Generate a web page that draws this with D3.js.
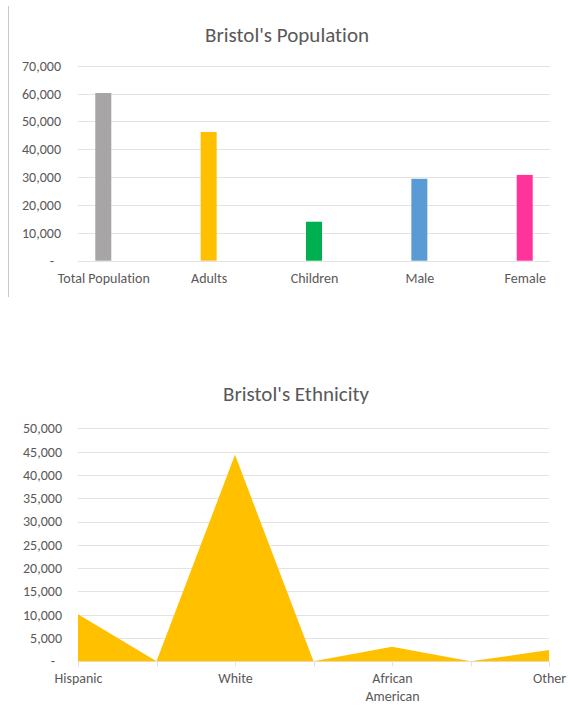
<!DOCTYPE html>
<html>
<head>
<meta charset="utf-8">
<script src="https://cdn.jsdelivr.net/npm/d3@7"></script>
<style>
  html, body { margin: 0; padding: 0; background: #fff; }
  svg { display: block; }
  text { font-family: Carlito, Calibri, Lato, "Open Sans", sans-serif; fill: #595959; font-variant-ligatures: none; }
</style>
</head>
<body>
<svg id="chart" width="579" height="708"></svg>
<script>
// ---- Data: Bristol's Population (bar chart) ----
const popCategories = ["Total Population", "Adults", "Children", "Male", "Female"];
const popValues = [60200, 46200, 14000, 29400, 30800];
const popColors = ["#A8A5A7", "#FFC000", "#00B050", "#5B9BD5", "#FF3399"];
const popTicks = [0, 10000, 20000, 30000, 40000, 50000, 60000, 70000];

// ---- Data: Bristol's Ethnicity (area chart) ----
const ethCategories = ["Hispanic", "", "White", "", "African American", "", "Other"];
const ethValues = [10100, 0, 44300, 0, 3100, 0, 2400];
const ethTicks = [0, 5000, 10000, 15000, 20000, 25000, 30000, 35000, 40000, 45000, 50000];

const svg = d3.select("#chart");
const fmt = d => d === 0 ? "-" : d3.format(",")(d);
const gridColor = "#E3E3E3";
const labelSize = "14px";
const titleSize = "21px";

// left border line of the first picture
svg.append("line")
  .attr("x1", 8.5).attr("x2", 8.5).attr("y1", 6).attr("y2", 297)
  .attr("stroke", "#C8C8C8").attr("stroke-width", 1);

// ================= Chart 1 =================
{
  const left = 78, right = 550, top = 65.7, bottom = 260.7;
  const x = d3.scalePoint().domain(popCategories).range([left, right]).padding(0.24);
  const y = d3.scaleLinear().domain([0, 70000]).range([bottom, top]);
  const g = svg.append("g");

  g.append("text").attr("x", 287).attr("y", 41.5).attr("text-anchor", "middle")
    .style("font-size", titleSize).text("Bristol's Population");

  // gridlines
  g.append("g").selectAll("line").data(popTicks).join("line")
    .attr("x1", left).attr("x2", right)
    .attr("y1", d => Math.round(y(d)) + 0.5).attr("y2", d => Math.round(y(d)) + 0.5)
    .attr("stroke", gridColor).attr("stroke-width", 1);

  // y axis
  const ya = g.append("g").attr("transform", "translate(61,0)")
    .call(d3.axisLeft(y).tickValues(popTicks).tickFormat(fmt).tickSize(0).tickPadding(0));
  ya.select(".domain").remove();
  ya.selectAll("text").style("font-size", labelSize).style("font-family", null).attr("fill", "#595959")
    .attr("dx", d => d === 0 ? -7 : 0);

  // bars
  const bw = 16;
  g.append("g").selectAll("rect").data(popValues).join("rect")
    .attr("x", (d, i) => x(popCategories[i]) - bw / 2)
    .attr("width", bw)
    .attr("y", d => y(d))
    .attr("height", d => y(0) - y(d))
    .attr("fill", (d, i) => popColors[i]);

  // x axis
  const xa = g.append("g").attr("transform", `translate(0,${bottom})`)
    .call(d3.axisBottom(x).tickSize(0).tickPadding(12));
  xa.select(".domain").remove();
  xa.selectAll("text").style("font-size", labelSize).style("font-family", null).attr("fill", "#595959");
}

// ================= Chart 2 =================
{
  const left = 78, right = 549, top = 428.3, bottom = 661.3;
  const idx = ethCategories.map((d, i) => i);
  const x = d3.scalePoint().domain(idx).range([left, right]);
  const y = d3.scaleLinear().domain([0, 50000]).range([bottom, top]);
  const g = svg.append("g");

  g.append("text").attr("x", 296).attr("y", 401).attr("text-anchor", "middle")
    .style("font-size", titleSize).text("Bristol's Ethnicity");

  g.append("g").selectAll("line").data(ethTicks).join("line")
    .attr("x1", left).attr("x2", right)
    .attr("y1", d => Math.round(y(d)) + 0.5).attr("y2", d => Math.round(y(d)) + 0.5)
    .attr("stroke", gridColor).attr("stroke-width", 1);

  const ya = g.append("g").attr("transform", "translate(62,0)")
    .call(d3.axisLeft(y).tickValues(ethTicks).tickFormat(fmt).tickSize(0).tickPadding(0));
  ya.select(".domain").remove();
  ya.selectAll("text").style("font-size", labelSize).style("font-family", null).attr("fill", "#595959")
    .attr("dx", d => d === 0 ? -7 : 0);

  const area = d3.area()
    .x((d, i) => x(i))
    .y0(y(0))
    .y1(d => y(d));
  g.append("path").datum(ethValues).attr("d", area).attr("fill", "#FFC000");

  // category ticks
  g.append("g").selectAll("line").data(idx).join("line")
    .attr("x1", d => Math.round(x(d)) + 0.5).attr("x2", d => Math.round(x(d)) + 0.5)
    .attr("y1", bottom).attr("y2", bottom + 5)
    .attr("stroke", "#E0E0E0");

  const xa = g.append("g").attr("transform", `translate(0,${bottom})`)
    .call(d3.axisBottom(x).tickSize(0).tickPadding(12).tickFormat(i => ethCategories[i]));
  xa.select(".domain").remove();
  xa.selectAll("text").style("font-size", labelSize).style("font-family", null).attr("fill", "#595959")
    .each(function(i) {
      const t = d3.select(this);
      const label = ethCategories[i];
      const words = label.split(" ");
      if (words.length > 1 && this.getComputedTextLength() > x.step()) {
        t.text(null);
        words.forEach((w, k) => {
          t.append("tspan").attr("x", 0).attr("dy", k === 0 ? "0.71em" : "1.3em").text(w);
        });
        t.attr("dy", null);
      }
    });
}
</script>
</body>
</html>
